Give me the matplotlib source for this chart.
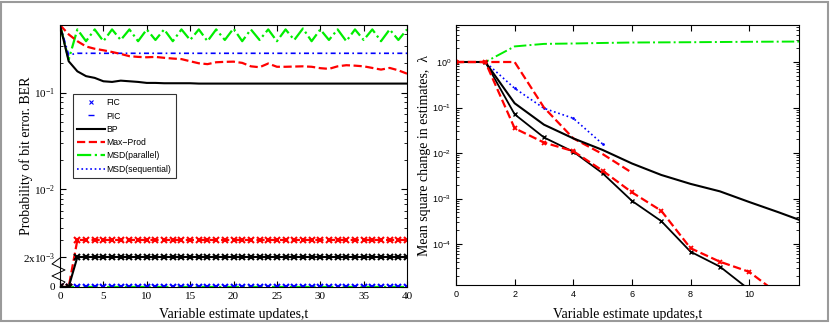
import numpy as np
import matplotlib
matplotlib.use("Agg")
import matplotlib.pyplot as plt
from matplotlib.lines import Line2D
from matplotlib.patches import Rectangle

plt.rcParams["mathtext.default"] = "regular"
SERIF = ["Liberation Serif", "DejaVu Serif"]
SANS = ["Liberation Sans", "DejaVu Sans"]

# ---- left panel: BER vs updates ----
t_left = list(range(41))
bp_top = [0.5, 0.211, 0.166, 0.148, 0.142, 0.131, 0.129, 0.133, 0.131, 0.129,
          0.126, 0.126, 0.125, 0.125, 0.125, 0.125, 0.124, 0.124, 0.124, 0.124,
          0.124, 0.124, 0.124, 0.124, 0.124, 0.124, 0.124, 0.124, 0.124, 0.124,
          0.124, 0.124, 0.124, 0.124, 0.124, 0.124, 0.124, 0.124, 0.124, 0.124, 0.124]
maxprod_top = [0.5, 0.40, 0.34, 0.30, 0.284, 0.274, 0.263, 0.251, 0.238, 0.234,
               0.232, 0.234, 0.229, 0.225, 0.222, 0.211, 0.201, 0.197, 0.206, 0.208,
               0.209, 0.203, 0.187, 0.183, 0.200, 0.185, 0.185, 0.186, 0.187, 0.185,
               0.179, 0.176, 0.187, 0.192, 0.190, 0.187, 0.180, 0.173, 0.180, 0.170, 0.157]
msdpar_top = [0.5, 0.22, 0.45, 0.34, 0.45, 0.34, 0.45, 0.35, 0.45, 0.34,
              0.45, 0.35, 0.45, 0.34, 0.45, 0.35, 0.45, 0.34, 0.45, 0.35,
              0.46, 0.34, 0.45, 0.35, 0.45, 0.34, 0.45, 0.35, 0.46, 0.34,
              0.45, 0.35, 0.45, 0.34, 0.45, 0.35, 0.45, 0.34, 0.45, 0.35, 0.45]
pic_top = [0.5, 0.245, 0.255, 0.255, 0.255, 0.255, 0.255, 0.255, 0.255, 0.255,
           0.255, 0.255, 0.255, 0.255, 0.255, 0.255, 0.255, 0.255, 0.255, 0.255,
           0.255, 0.255, 0.255, 0.255, 0.255, 0.255, 0.255, 0.255, 0.255, 0.255,
           0.255, 0.255, 0.255, 0.255, 0.255, 0.255, 0.255, 0.255, 0.255, 0.255, 0.255]
maxprod_bot = [0, 0] + [3e-3] * 39
bp_bot = [0, 0] + [2e-3] * 39
zero_bot = [0] * 41

# ---- right panel: mean square change ----
t_right = list(range(13))
msdpar_r = [1, 1, 2.2, 2.5, 2.55, 2.62, 2.68, 2.7, 2.72, 2.75, 2.78, 2.8, 2.82]
msdseq_r = [1, 1, 0.264, 0.096, 0.058, 0.0158]
maxprod_r_a = [1, 1, 1, 0.1, 0.021, 0.0095, 0.0037]
bp_r_a = [1, 1, 0.124, 0.042, 0.021, 0.0117, 0.0059, 0.0033, 0.0021, 0.00144,
          0.00084, 0.0005, 0.00029]
bp_r_b = [1, 1, 0.071, 0.022, 0.0107, 0.0036, 0.00089, 0.00032, 6.8e-5, 3.2e-5, 1.0e-5]
maxprod_r_b = [1, 1, 0.035, 0.017, 0.011, 0.0041, 0.00137, 0.00054, 8.1e-5, 4.1e-5,
               2.45e-5, 8e-6]

BLUE, RED, GREEN = "#0000ff", "#ff0000", "#00ee00"

LO = np.log10(2e-3)
K = 0.31


def fwd(y):
    y = np.asarray(y, dtype=float)
    lg = np.log10(np.maximum(y, 1e-12))
    lin = LO - (2e-3 - y) / 2e-3 * K
    return np.where(y >= 2e-3, lg, lin)


def inv(v):
    v = np.asarray(v, dtype=float)
    return np.where(v >= LO, 10.0 ** np.minimum(v, 10), 2e-3 - (LO - v) / K * 2e-3)


fig = plt.figure(figsize=(8.3, 3.23), dpi=100)
fig.patches.append(Rectangle((0.001, 0.005), 0.996, 0.99, transform=fig.transFigure,
                             fill=False, edgecolor="#9a9a9a", lw=1.5))

ax1 = fig.add_axes([0.0723, 0.1115, 0.4181, 0.8111])
ax1.set_yscale("function", functions=(fwd, inv))

ax1.plot(t_left, msdpar_top, color=GREEN, ls="-.", lw=1.6)
ax1.plot(t_left, pic_top, color=BLUE, ls=(0, (3, 2, 1, 2)), lw=1.2)
ax1.plot(t_left, maxprod_top, color=RED, ls="--", lw=1.6)
ax1.plot(t_left, bp_top, color="black", ls="-", lw=1.5)

ax1.plot(t_left, zero_bot, color=GREEN, ls="-.", lw=1.6)
ax1.plot(t_left, zero_bot, color=BLUE, ls="none", marker="x", ms=4, mew=1.5)
ax1.plot(t_left, maxprod_bot, color=RED, ls="--", lw=1.6, marker="x", ms=4, mew=1.5)
ax1.plot(t_left, bp_bot, color="black", ls="-", lw=1.5, marker="x", ms=4, mew=1.5)

ax1.set_xlim(0, 40)
ax1.set_ylim(0, 0.5)
ax1.set_xticks([0, 5, 10, 15, 20, 25, 30, 35, 40])
ax1.set_yticks([0, 2e-3, 1e-2, 1e-1])
ax1.set_yticklabels(["0", r"2x10$^{-3}$", r"10$^{-2}$", r"10$^{-1}$"])
minors = [m * 10.0 ** e for e in (-3, -2, -1) for m in range(2, 10)]
ax1.set_yticks([v for v in minors if 2e-3 < v <= 0.5 and v not in (1e-2, 1e-1)], minor=True)
ax1.tick_params(which="both", direction="in", top=True, right=True, labelsize=8)
ax1.tick_params(which="major", length=4)
ax1.tick_params(which="minor", length=2)
for lab in ax1.get_xticklabels() + ax1.get_yticklabels():
    lab.set_family(SERIF)
ax1.set_xlabel("Variable estimate updates,t", family=SERIF, fontsize=10)
ax1.xaxis.set_label_coords(0.5, -0.082)
ax1.set_ylabel("Probability of bit error. BER", family=SERIF, fontsize=10)
ax1.yaxis.set_label_coords(-0.078, 0.5)

# axis break mark
zx = [60, 52, 65, 52, 65, 60]
zy = [258, 264, 270, 276, 282, 287]
ax1.plot([(x - 60) / 347 for x in zx], [(287 - y) / 262 for y in zy],
         transform=ax1.transAxes, color="black", lw=0.7, clip_on=False)

handles = [
    Line2D([], [], color=BLUE, ls="none", marker="x", ms=3, mew=0.8),
    Line2D([], [], color=BLUE, ls="none", marker="_", ms=4, mew=1.0),
    Line2D([], [], color="black", ls="-", lw=1.5),
    Line2D([], [], color=RED, ls="--", lw=1.6),
    Line2D([], [], color=GREEN, ls="-.", lw=1.6),
    Line2D([], [], color=BLUE, ls=":", lw=1.2),
]
labels = ["FIC", "PIC", "BP", "Max\u2212Prod", "MSD(parallel)", "MSD(sequential)"]
leg = ax1.legend(handles, labels, loc="upper left", bbox_to_anchor=(0.0375, 0.737),
                 borderaxespad=0, fancybox=False, edgecolor="black",
                 prop={"family": SANS, "size": 6.2}, handlelength=3.2,
                 handletextpad=0.2, labelspacing=0.5, borderpad=0.5)
leg.get_frame().set_linewidth(0.8)

# ---- right axes ----
ax2 = fig.add_axes([0.5494, 0.1176, 0.4133, 0.805])
ax2.set_yscale("log")
ax2.plot(t_right, msdpar_r, color=GREEN, ls="-.", lw=1.4)
ax2.plot(t_right[:len(msdseq_r)], msdseq_r, color=BLUE, ls=":", lw=1.2,
         marker=".", ms=2)
ax2.plot(t_right[:len(maxprod_r_a)], maxprod_r_a, color=RED, ls="--", lw=1.6)
ax2.plot(t_right, bp_r_a, color="black", ls="-", lw=1.5)
ax2.plot(t_right[:len(bp_r_b)], bp_r_b, color="black", ls="-", lw=1.3,
         marker="x", ms=3.5, mew=1.0)
ax2.plot(t_right[:len(maxprod_r_b)], maxprod_r_b, color=RED, ls="--", lw=1.6,
         marker="x", ms=3.5, mew=1.3)

ax2.set_xlim(0, 11.7)
ax2.set_ylim(1.26e-5, 6.5)
ax2.set_xticks([0, 2, 4, 6, 8, 10])
ax2.set_yticks([1e-4, 1e-3, 1e-2, 1e-1, 1])
ax2.set_yticklabels([r"10$^{-4}$", r"10$^{-3}$", r"10$^{-2}$", r"10$^{-1}$", r"10$^{0}$"])
ax2.tick_params(which="both", direction="in", top=True, right=True, labelsize=6.5)
ax2.tick_params(which="major", length=4)
ax2.tick_params(which="minor", length=2)
for lab in ax2.get_xticklabels() + ax2.get_yticklabels():
    lab.set_family(SANS)
ax2.set_xlabel("Variable estimate updates,t", family=SERIF, fontsize=10)
ax2.xaxis.set_label_coords(0.5, -0.088)
ax2.set_ylabel("Mean square change in estimates,  \u03bb", family=SERIF, fontsize=10)
ax2.yaxis.set_label_coords(-0.073, 0.5)

for ax in (ax1, ax2):
    for s in ax.spines.values():
        s.set_linewidth(0.8)

fig.savefig("out.png", dpi=100)
